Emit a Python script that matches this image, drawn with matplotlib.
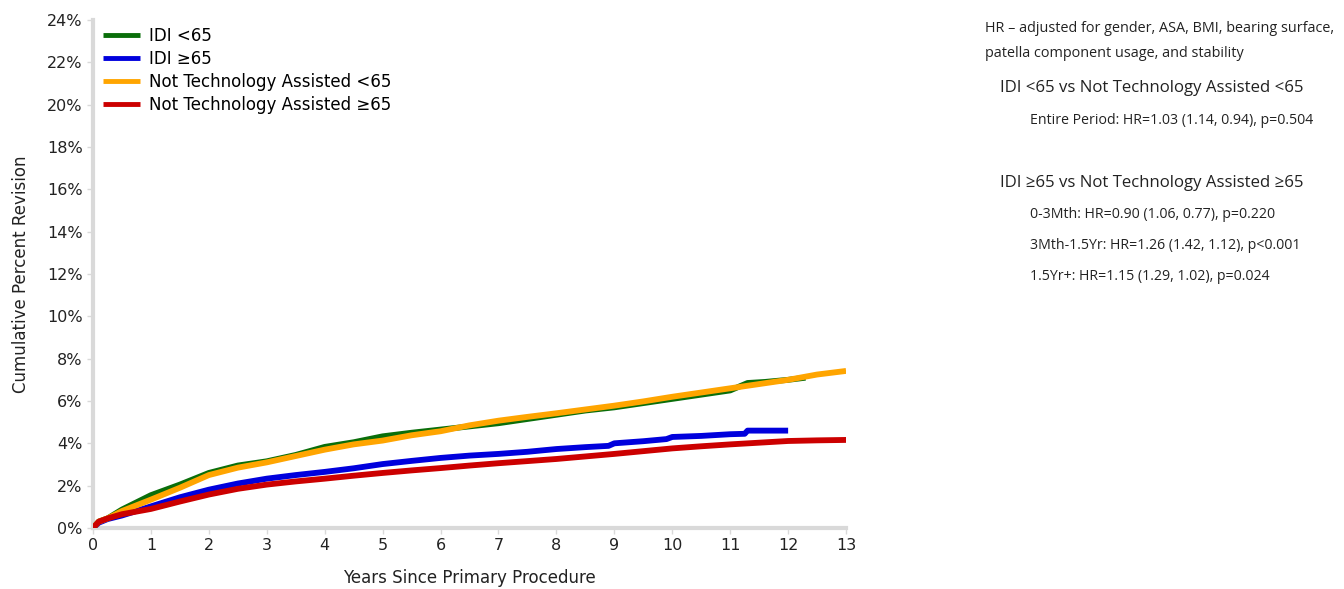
import matplotlib.pyplot as plt

# Données (années, % cumulé de révision)
years_idi_lt65 = [0, 0.1, 0.25, 0.5, 1, 1.5, 2, 2.5, 3, 3.5, 4, 4.5, 5, 5.5, 6, 6.5, 7, 7.5, 8, 8.5, 9, 9.5, 10, 10.5, 11, 11.3, 11.6, 12, 12.3]
rev_idi_lt65 = [0, 0.3, 0.45, 0.87, 1.55, 2.05, 2.6, 2.95, 3.15, 3.45, 3.83, 4.05, 4.33, 4.5, 4.65, 4.8, 4.95, 5.15, 5.35, 5.55, 5.7, 5.9, 6.1, 6.3, 6.5, 6.85, 6.9, 7.0, 7.1]

years_idi_ge65 = [0, 0.1, 0.25, 0.5, 1, 1.5, 2, 2.5, 3, 3.5, 4, 4.5, 5, 5.5, 6, 6.5, 7, 7.5, 8, 8.5, 8.9, 9, 9.5, 9.9, 10, 10.5, 11, 11.25, 11.3, 12]
rev_idi_ge65 = [0, 0.25, 0.42, 0.59, 1.02, 1.45, 1.81, 2.1, 2.33, 2.5, 2.65, 2.82, 3.02, 3.17, 3.31, 3.42, 3.5, 3.6, 3.73, 3.82, 3.88, 4.0, 4.1, 4.2, 4.3, 4.35, 4.43, 4.45, 4.6, 4.6]

years_nta_lt65 = [0, 0.1, 0.25, 0.5, 1, 1.5, 2, 2.5, 3, 3.5, 4, 4.5, 5, 5.5, 6, 6.5, 7, 7.5, 8, 8.5, 9, 9.5, 10, 10.5, 11, 11.5, 12, 12.5, 13]
rev_nta_lt65 = [0, 0.3, 0.45, 0.8, 1.34, 1.9, 2.5, 2.85, 3.1, 3.4, 3.7, 3.95, 4.13, 4.38, 4.57, 4.85, 5.07, 5.25, 5.42, 5.6, 5.78, 5.98, 6.2, 6.4, 6.6, 6.8, 7.0, 7.25, 7.42]

years_nta_ge65 = [0, 0.1, 0.25, 0.5, 1, 1.5, 2, 2.5, 3, 3.5, 4, 4.5, 5, 5.5, 6, 6.5, 7, 7.5, 8, 8.5, 9, 9.5, 10, 10.5, 11, 11.5, 12, 12.5, 13]
rev_nta_ge65 = [0, 0.3, 0.45, 0.65, 0.9, 1.25, 1.58, 1.85, 2.05, 2.2, 2.33, 2.47, 2.6, 2.72, 2.83, 2.95, 3.06, 3.16, 3.26, 3.38, 3.5, 3.63, 3.76, 3.86, 3.95, 4.03, 4.11, 4.14, 4.16]

labels = ["IDI <65", "IDI \u226565", "Not Technology Assisted <65", "Not Technology Assisted \u226565"]
colors = ["#0a6e0a", "#0000dd", "#ffa500", "#cc0000"]

fig = plt.figure(figsize=(13.44, 5.89), dpi=100)
ax = fig.add_axes([0.0692, 0.1036, 0.5603, 0.8624])

l1, = ax.plot(years_idi_lt65, rev_idi_lt65, color=colors[0], lw=4.2, solid_capstyle="butt")
l2, = ax.plot(years_idi_ge65, rev_idi_ge65, color=colors[1], lw=4.2, solid_capstyle="butt")
l3, = ax.plot(years_nta_lt65, rev_nta_lt65, color=colors[2], lw=4.2, solid_capstyle="butt")
l4, = ax.plot(years_nta_ge65, rev_nta_ge65, color=colors[3], lw=4.2, solid_capstyle="butt")

ax.set_xlim(0, 13)
ax.set_ylim(0, 24)
ax.set_xticks(range(0, 14))
ax.set_yticks(range(0, 25, 2))
ax.set_yticklabels([f"{v}%" for v in range(0, 25, 2)])
ax.tick_params(labelsize=11.5, labelcolor="#222222", length=4, width=1, color="#d9d9d9")
for s in ["top", "right"]:
    ax.spines[s].set_visible(False)
for s in ["left", "bottom"]:
    ax.spines[s].set_color("#d9d9d9")
    ax.spines[s].set_linewidth(3)
    ax.spines[s].set_zorder(0.5)

ax.set_xlabel("Years Since Primary Procedure", fontsize=12, color="#222222", labelpad=11)
ax.set_ylabel("Cumulative Percent Revision", fontsize=12, color="#222222", labelpad=12)

leg = ax.legend([l1, l2, l3, l4], labels, loc="upper left", bbox_to_anchor=(-0.005, 1.012), frameon=False,
                fontsize=12, handlelength=2.25, handletextpad=0.55, labelspacing=0.3, borderaxespad=0.4)
for h in leg.get_lines():
    h.set_linewidth(3.5)

# Texte à droite
fam = "Open Sans"
fig.text(0.733, 0.946, "HR \u2013 adjusted for gender, ASA, BMI, bearing surface,", fontsize=10.4, family=fam, color="#222222")
fig.text(0.733, 0.903, "patella component usage, and stability", fontsize=10.4, family=fam, color="#222222")
fig.text(0.744, 0.844, "IDI <65 vs Not Technology Assisted <65", fontsize=12.1, family=fam, color="#222222")
fig.text(0.766, 0.790, "Entire Period: HR=1.03 (1.14, 0.94), p=0.504", fontsize=10.2, family=fam, color="#222222")
fig.text(0.744, 0.683, "IDI \u226565 vs Not Technology Assisted \u226565", fontsize=12.1, family=fam, color="#222222")
fig.text(0.766, 0.630, "0-3Mth: HR=0.90 (1.06, 0.77), p=0.220", fontsize=10.2, family=fam, color="#222222")
fig.text(0.766, 0.577, "3Mth-1.5Yr: HR=1.26 (1.42, 1.12), p<0.001", fontsize=10.2, family=fam, color="#222222")
fig.text(0.766, 0.524, "1.5Yr+: HR=1.15 (1.29, 1.02), p=0.024", fontsize=10.2, family=fam, color="#222222")

fig.savefig("out.png", dpi=100)
